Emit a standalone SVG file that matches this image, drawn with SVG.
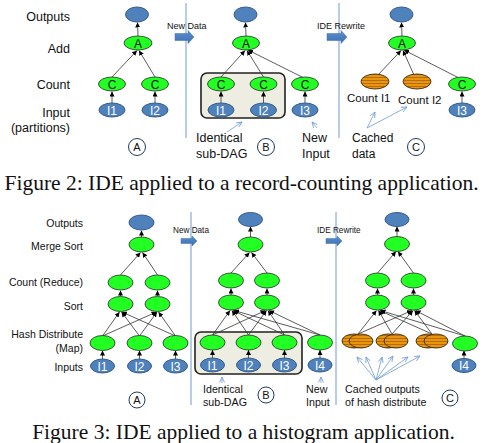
<svg xmlns="http://www.w3.org/2000/svg" width="485" height="443" viewBox="0 0 485 443">
<defs>
<marker id="ah" markerUnits="userSpaceOnUse" markerWidth="5" markerHeight="5" refX="5" refY="2.5" orient="auto"><path d="M0,0 L5,2.5 L0,5 z" fill="#000"/></marker>
<marker id="bh" markerUnits="userSpaceOnUse" markerWidth="6" markerHeight="6" refX="5.5" refY="3" orient="auto"><path d="M0,0.5 L5.5,3 L0,5.5" fill="none" stroke="#6f9bd3" stroke-width="0.8"/></marker>
<pattern id="stripe" patternUnits="userSpaceOnUse" width="8" height="3"><rect width="8" height="3" fill="#e8960c"/><rect y="2" width="8" height="1" fill="#b86a08"/></pattern>
<linearGradient id="bg" x1="0" y1="0" x2="0" y2="1"><stop offset="0" stop-color="#5b8fd0"/><stop offset="1" stop-color="#3d6fae"/></linearGradient>
</defs>
<style>
.lbl{font-family:"Liberation Sans",Arial,sans-serif;fill:#111;text-anchor:end}
.t{font-size:12.5px}
.b{font-size:10.5px}
.g{fill:#22ff22;stroke:#2a2a2a;stroke-width:0.8}
.bl{fill:#4f81bd;stroke:#385d8a;stroke-width:1}
.or{fill:url(#stripe);stroke:#3a2a10;stroke-width:0.9}
.nt{font-family:"Liberation Sans",Arial,sans-serif;font-size:12px;text-anchor:middle}
.nw{fill:#fff}
.nk{fill:#111}
.ed line{stroke:#333;stroke-width:0.8;marker-end:url(#ah)}
.ba line{stroke:#6f9bd3;stroke-width:0.8;marker-end:url(#bh)}
.sep{stroke:#6f9bd3;stroke-width:1}
.box{fill:#eeede2;stroke:#222;stroke-width:1.6}
.ann{font-family:"Liberation Sans",Arial,sans-serif;fill:#111}
.circ{fill:#fff;stroke:#1f3a66;stroke-width:1}
.ct{font-family:"Liberation Sans",Arial,sans-serif;font-size:11px;text-anchor:middle;fill:#111}
.arr{fill:url(#bg);stroke:#3d6fae;stroke-width:0.5}
.cap{font-family:"Liberation Serif","Times New Roman",serif;font-size:21.5px;text-anchor:middle;fill:#111}
</style>

<!-- ================= Figure 2 ================= -->
<g id="labels-top" class="lbl t">
<text x="70" y="21">Outputs</text>
<text x="70" y="53">Add</text>
<text x="70" y="89">Count</text>
<text x="70" y="117">Input</text>
<text x="70" y="132">(partitions)</text>
</g>

<line class="sep" x1="186" y1="3" x2="186" y2="138"/>
<line class="sep" x1="339" y1="3" x2="339" y2="138"/>

<g id="transition-top-1">
<text class="ann" x="167" y="29" font-size="9">New Data</text>
<polygon class="arr" points="175,33.5 188,33.5 188,30.5 194,37 188,43.5 188,40.5 175,40.5"/>
</g>
<g id="transition-top-2">
<text class="ann" x="317" y="29" font-size="9">IDE Rewrite</text>
<polygon class="arr" points="327,33.5 341,33.5 341,30.5 347,37 341,43.5 341,40.5 327,40.5"/>
</g>

<g id="box-top"><rect class="box" x="201" y="73" width="84" height="45" rx="6"/></g>

<g class="ed" id="edges-top">
<line x1="138" y1="36" x2="137.5" y2="22.5"/>
<line x1="112" y1="77" x2="137" y2="50.5"/>
<line x1="155" y1="77" x2="139" y2="50.5"/>
<line x1="112" y1="103" x2="112" y2="91.5"/>
<line x1="155" y1="103" x2="155" y2="91.5"/>
<line x1="246" y1="36" x2="245.5" y2="22.5"/>
<line x1="221" y1="77" x2="245" y2="50.5"/>
<line x1="263.5" y1="77" x2="247" y2="50.5"/>
<line x1="303" y1="77.5" x2="248" y2="50"/>
<line x1="221" y1="103" x2="221" y2="91.5"/>
<line x1="263.5" y1="103" x2="263.5" y2="91.5"/>
<line x1="305" y1="103" x2="305" y2="91.5"/>
<line x1="402" y1="36" x2="401.5" y2="22.5"/>
<line x1="378" y1="75" x2="401" y2="50.5"/>
<line x1="414" y1="75" x2="403" y2="50.5"/>
<line x1="458" y1="77.5" x2="404" y2="50"/>
<line x1="462" y1="103" x2="462" y2="91.5"/>
</g>

<g id="nA_out"><ellipse class="bl" cx="137" cy="14.5" rx="11.5" ry="7.5"/></g>
<g id="nA_add"><ellipse class="g" cx="138" cy="43" rx="14" ry="7"/><text class="nt nk" x="138" y="47.5">A</text></g>
<g id="nA_c1"><ellipse class="g" cx="112" cy="84" rx="13.5" ry="7"/><text class="nt nk" x="112" y="88.5">C</text></g>
<g id="nA_c2"><ellipse class="g" cx="155" cy="84" rx="13.5" ry="7"/><text class="nt nk" x="155" y="88.5">C</text></g>
<g id="nA_i1"><ellipse class="bl" cx="112" cy="110" rx="13" ry="7"/><text class="nt nw" x="112" y="114.5">I1</text></g>
<g id="nA_i2"><ellipse class="bl" cx="155" cy="110" rx="13" ry="7"/><text class="nt nw" x="155" y="114.5">I2</text></g>
<g id="cA_top"><circle class="circ" cx="137" cy="147" r="8.5"/><text class="ct" x="137" y="151">A</text></g>

<g id="nB_out"><ellipse class="bl" cx="245.5" cy="14.5" rx="11.5" ry="7.5"/></g>
<g id="nB_add"><ellipse class="g" cx="246" cy="43" rx="13.5" ry="7"/><text class="nt nk" x="246" y="47.5">A</text></g>
<g id="nB_c1"><ellipse class="g" cx="221" cy="84" rx="13.5" ry="7"/><text class="nt nk" x="221" y="88.5">C</text></g>
<g id="nB_c2"><ellipse class="g" cx="263.5" cy="84" rx="13.5" ry="7"/><text class="nt nk" x="263.5" y="88.5">C</text></g>
<g id="nB_c3"><ellipse class="g" cx="305" cy="84" rx="13.5" ry="7"/><text class="nt nk" x="305" y="88.5">C</text></g>
<g id="nB_i1"><ellipse class="bl" cx="221" cy="110" rx="13" ry="7"/><text class="nt nw" x="221" y="114.5">I1</text></g>
<g id="nB_i2"><ellipse class="bl" cx="263.5" cy="110" rx="13" ry="7"/><text class="nt nw" x="263.5" y="114.5">I2</text></g>
<g id="nB_i3"><ellipse class="bl" cx="305" cy="110" rx="13" ry="7"/><text class="nt nw" x="305" y="114.5">I3</text></g>
<g id="cB_top"><circle class="circ" cx="266" cy="147" r="8.5"/><text class="ct" x="266" y="151">B</text></g>

<g id="ann-top-B" class="ann" font-size="12.5">
<text x="196" y="142">Identical</text>
<text x="196" y="158">sub-DAG</text>
<text x="302" y="142">New</text>
<text x="302" y="158">Input</text>
</g>

<g id="nC_out"><ellipse class="bl" cx="401.5" cy="14.5" rx="11.5" ry="7.5"/></g>
<g id="nC_add"><ellipse class="g" cx="402" cy="43" rx="13.5" ry="7"/><text class="nt nk" x="402" y="47.5">A</text></g>
<g id="nC_o1"><ellipse class="or" cx="375" cy="81.5" rx="14" ry="7.5"/></g>
<g id="nC_o2"><ellipse class="or" cx="417" cy="81.5" rx="14" ry="7.5"/></g>
<g id="nC_c"><ellipse class="g" cx="462" cy="84" rx="13.5" ry="7"/><text class="nt nk" x="462" y="88.5">C</text></g>
<g id="nC_i3"><ellipse class="bl" cx="462" cy="110" rx="13" ry="7"/><text class="nt nw" x="462" y="114.5">I3</text></g>
<g id="cC_top"><circle class="circ" cx="416" cy="147" r="8.5"/><text class="ct" x="416" y="151">C</text></g>

<g id="ann-top-C" class="ann" font-size="11.5">
<text x="347" y="102">Count I1</text>
<text x="398" y="103.5">Count I2</text>
<text x="352" y="142" font-size="12">Cached</text>
<text x="352" y="158" font-size="12">data</text>
</g>

<g class="ba" id="ann-arrows-top">
<line x1="227" y1="132" x2="242" y2="122"/>
<line x1="317" y1="128" x2="312" y2="122"/>
<line x1="367" y1="128" x2="375" y2="112"/>
<line x1="367" y1="128" x2="407" y2="107"/>
</g>

<text class="cap" x="241.5" y="190">Figure 2: IDE applied to a record-counting application.</text>

<!-- ================= Figure 3 ================= -->
<g id="labels-bottom" class="lbl b">
<text x="83" y="226.5">Outputs</text>
<text x="83" y="250">Merge Sort</text>
<text x="83" y="286">Count (Reduce)</text>
<text x="83" y="310">Sort</text>
<text x="83" y="338">Hash Distribute</text>
<text x="83" y="352">(Map)</text>
<text x="83" y="371">Inputs</text>
</g>

<line class="sep" x1="191" y1="212" x2="191" y2="405"/>
<line class="sep" x1="336" y1="212" x2="336" y2="405"/>

<g id="transition-bot-1">
<text class="ann" x="173" y="233" font-size="8.2">New Data</text>
<polygon class="arr" points="181,238.5 192,238.5 192,236 197,241 192,246 192,243.5 181,243.5"/>
</g>
<g id="transition-bot-2">
<text class="ann" x="317" y="233" font-size="8.2">IDE Rewrite</text>
<polygon class="arr" points="326,238.5 337,238.5 337,236 342,241 337,246 337,243.5 326,243.5"/>
</g>

<g id="box-bottom"><rect class="box" x="195" y="332" width="107" height="42" rx="6"/></g>

<g class="ed" id="edges-bottom">
<!-- panel A -->
<line x1="141.5" y1="237" x2="141.5" y2="230.5"/>
<line x1="120.5" y1="275" x2="140.5" y2="252.5"/>
<line x1="157.5" y1="275" x2="142.5" y2="252.5"/>
<line x1="120.5" y1="296" x2="120.5" y2="290.5"/>
<line x1="157.5" y1="296" x2="157.5" y2="290.5"/>
<line x1="102.5" y1="336" x2="119.5" y2="312"/>
<line x1="102.5" y1="336" x2="156.5" y2="312"/>
<line x1="139.5" y1="336" x2="121.5" y2="312"/>
<line x1="139.5" y1="336" x2="157" y2="312"/>
<line x1="175.5" y1="336" x2="122" y2="312"/>
<line x1="175.5" y1="336" x2="158.5" y2="312"/>
<line x1="102.5" y1="359" x2="102.5" y2="350.5"/>
<line x1="139.5" y1="359" x2="139.5" y2="350.5"/>
<line x1="175.5" y1="359" x2="175.5" y2="350.5"/>
<!-- panel B -->
<line x1="250.5" y1="237" x2="250.5" y2="226.5"/>
<line x1="231" y1="273" x2="249.5" y2="252.5"/>
<line x1="267" y1="273" x2="251.5" y2="252.5"/>
<line x1="231" y1="295" x2="231" y2="288.5"/>
<line x1="267" y1="295" x2="267" y2="288.5"/>
<line x1="212.5" y1="335" x2="230" y2="310.5"/>
<line x1="212.5" y1="335" x2="265.5" y2="310.5"/>
<line x1="248.5" y1="335" x2="232" y2="310.5"/>
<line x1="248.5" y1="335" x2="266.5" y2="310.5"/>
<line x1="284.5" y1="335" x2="233" y2="310.5"/>
<line x1="284.5" y1="335" x2="268" y2="310.5"/>
<line x1="320" y1="335" x2="234" y2="310.5"/>
<line x1="320" y1="335" x2="269" y2="310.5"/>
<line x1="212.5" y1="358" x2="212.5" y2="350"/>
<line x1="248.5" y1="358" x2="248.5" y2="350"/>
<line x1="284.5" y1="358" x2="284.5" y2="350"/>
<line x1="320" y1="358" x2="320" y2="350"/>
<!-- panel C -->
<line x1="397" y1="237" x2="397" y2="226.5"/>
<line x1="377.5" y1="273" x2="396" y2="251.5"/>
<line x1="413.5" y1="273" x2="398" y2="251.5"/>
<line x1="377.5" y1="295" x2="377.5" y2="288.5"/>
<line x1="413.5" y1="295" x2="413.5" y2="288.5"/>
<line x1="358" y1="334" x2="376.5" y2="310.5"/>
<line x1="358" y1="334" x2="412" y2="310.5"/>
<line x1="392" y1="334" x2="378.5" y2="310.5"/>
<line x1="392" y1="334" x2="413" y2="310.5"/>
<line x1="432" y1="334" x2="379.5" y2="310.5"/>
<line x1="432" y1="334" x2="414.5" y2="310.5"/>
<line x1="465" y1="336" x2="380.5" y2="310.5"/>
<line x1="465" y1="336" x2="415.5" y2="310.5"/>
<line x1="464" y1="358.5" x2="464" y2="350.5"/>
</g>

<!-- panel A nodes -->
<g id="hA_out"><ellipse class="bl" cx="141.5" cy="222.5" rx="12.5" ry="7.5"/></g>
<g id="hA_merge"><ellipse class="g" cx="141.5" cy="244.5" rx="12.5" ry="7.5"/></g>
<g id="hA_cnt1"><ellipse class="g" cx="120.5" cy="282.5" rx="12.5" ry="7.5"/></g>
<g id="hA_cnt2"><ellipse class="g" cx="157.5" cy="282.5" rx="12.5" ry="7.5"/></g>
<g id="hA_sort1"><ellipse class="g" cx="120.5" cy="304" rx="12.5" ry="7.5"/></g>
<g id="hA_sort2"><ellipse class="g" cx="157.5" cy="304" rx="12.5" ry="7.5"/></g>
<g id="hA_h1"><ellipse class="g" cx="102.5" cy="343" rx="12.5" ry="7.5"/></g>
<g id="hA_h2"><ellipse class="g" cx="139.5" cy="343" rx="12.5" ry="7.5"/></g>
<g id="hA_h3"><ellipse class="g" cx="175.5" cy="343" rx="12.5" ry="7.5"/></g>
<g id="hA_i1"><ellipse class="bl" cx="102.5" cy="366" rx="12" ry="7"/><text class="nt nw" x="102.5" y="370.5">I1</text></g>
<g id="hA_i2"><ellipse class="bl" cx="139.5" cy="366" rx="12" ry="7"/><text class="nt nw" x="139.5" y="370.5">I2</text></g>
<g id="hA_i3"><ellipse class="bl" cx="175.5" cy="366" rx="12" ry="7"/><text class="nt nw" x="175.5" y="370.5">I3</text></g>
<g id="cA_bot"><circle class="circ" cx="137" cy="400" r="8"/><text class="ct" x="137" y="404">A</text></g>

<!-- panel B nodes -->
<g id="hB_out"><ellipse class="bl" cx="250.5" cy="219.5" rx="12" ry="7"/></g>
<g id="hB_merge"><ellipse class="g" cx="250.5" cy="244.5" rx="12.5" ry="7.5"/></g>
<g id="hB_cnt1"><ellipse class="g" cx="231" cy="280.5" rx="12.5" ry="7.5"/></g>
<g id="hB_cnt2"><ellipse class="g" cx="267" cy="280.5" rx="12.5" ry="7.5"/></g>
<g id="hB_sort1"><ellipse class="g" cx="231" cy="302.5" rx="12.5" ry="7.5"/></g>
<g id="hB_sort2"><ellipse class="g" cx="267" cy="302.5" rx="12.5" ry="7.5"/></g>
<g id="hB_h1"><ellipse class="g" cx="212.5" cy="342.5" rx="12.5" ry="7.5"/></g>
<g id="hB_h2"><ellipse class="g" cx="248.5" cy="342.5" rx="12.5" ry="7.5"/></g>
<g id="hB_h3"><ellipse class="g" cx="284.5" cy="342.5" rx="12.5" ry="7.5"/></g>
<g id="hB_h4"><ellipse class="g" cx="320" cy="342.5" rx="12.5" ry="7.5"/></g>
<g id="hB_i1"><ellipse class="bl" cx="212.5" cy="365" rx="12" ry="7"/><text class="nt nw" x="212.5" y="369.5">I1</text></g>
<g id="hB_i2"><ellipse class="bl" cx="248.5" cy="365" rx="12" ry="7"/><text class="nt nw" x="248.5" y="369.5">I2</text></g>
<g id="hB_i3"><ellipse class="bl" cx="284.5" cy="365" rx="12" ry="7"/><text class="nt nw" x="284.5" y="369.5">I3</text></g>
<g id="hB_i4"><ellipse class="bl" cx="320" cy="365" rx="12" ry="7"/><text class="nt nw" x="320" y="369.5">I4</text></g>
<g id="cB_bot"><circle class="circ" cx="266" cy="395" r="8"/><text class="ct" x="266" y="399">B</text></g>

<g id="ann-bot-B" class="ann" font-size="10.7">
<text x="203" y="393">Identical</text>
<text x="203" y="406">sub-DAG</text>
<text x="306" y="393">New</text>
<text x="306" y="406">Input</text>
</g>

<!-- panel C nodes -->
<g id="hC_out"><ellipse class="bl" cx="397" cy="219.5" rx="12" ry="7"/></g>
<g id="hC_merge"><ellipse class="g" cx="397" cy="244" rx="12.5" ry="7.5"/></g>
<g id="hC_cnt1"><ellipse class="g" cx="377.5" cy="280.5" rx="12" ry="7.5"/></g>
<g id="hC_cnt2"><ellipse class="g" cx="413.5" cy="280.5" rx="12.5" ry="7.5"/></g>
<g id="hC_sort1"><ellipse class="g" cx="377.5" cy="302.5" rx="12" ry="7.5"/></g>
<g id="hC_sort2"><ellipse class="g" cx="413.5" cy="302.5" rx="12.5" ry="7.5"/></g>
<g id="hC_p1"><ellipse class="or" cx="354" cy="341" rx="12" ry="7"/><ellipse class="or" cx="361" cy="341" rx="12" ry="7"/></g>
<g id="hC_p2"><ellipse class="or" cx="388" cy="341" rx="12" ry="7"/><ellipse class="or" cx="396" cy="341" rx="12" ry="7"/></g>
<g id="hC_p3"><ellipse class="or" cx="428" cy="341" rx="12" ry="7"/><ellipse class="or" cx="436" cy="341" rx="12" ry="7"/></g>
<g id="hC_h4"><ellipse class="g" cx="465" cy="343.5" rx="12.5" ry="7.5"/></g>
<g id="hC_i4"><ellipse class="bl" cx="464" cy="365.5" rx="12" ry="7"/><text class="nt nw" x="464" y="370">I4</text></g>
<g id="cC_bot"><circle class="circ" cx="450" cy="398" r="8"/><text class="ct" x="450" y="402">C</text></g>

<g id="ann-bot-C" class="ann" font-size="10.7">
<text x="345" y="393">Cached outputs</text>
<text x="345" y="406">of hash distribute</text>
</g>

<g class="ba" id="ann-arrows-bottom">
<line x1="222" y1="383" x2="222" y2="377"/>
<line x1="321" y1="383" x2="321" y2="377"/>
<line x1="376" y1="380" x2="357" y2="357"/>
<line x1="376" y1="380" x2="366" y2="357"/>
<line x1="376" y1="380" x2="382" y2="357"/>
<line x1="376" y1="380" x2="393" y2="356"/>
<line x1="376" y1="380" x2="408" y2="357"/>
<line x1="376" y1="380" x2="420" y2="356"/>
</g>

<text class="cap" x="243.5" y="439">Figure 3: IDE applied to a histogram application.</text>
</svg>
